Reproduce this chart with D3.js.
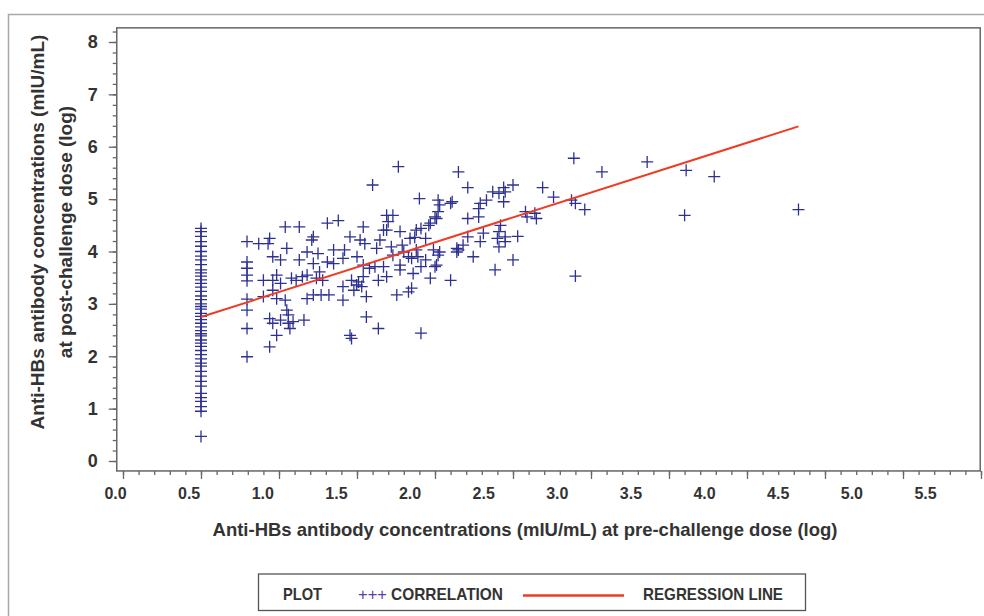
<!DOCTYPE html>
<html>
<head>
<meta charset="utf-8">
<script src="https://cdn.jsdelivr.net/npm/d3@7"></script>
<style>
  body { margin: 0; background: #fff; }
  svg { display: block; }
</style>
</head>
<body>
<div id="chart"></div>
<script>
/* values (log scale on both axes) */
const xTickLabels = ["0.0", "0.5", "1.0", "1.5", "2.0", "2.5", "3.0", "3.5", "4.0", "4.5", "5.0", "5.5"];
const yTickValues = [0, 1, 2, 3, 4, 5, 6, 7, 8];

// subjects sitting on the lower limit (pre-challenge = 0.5)
const floorX = 0.5;
const floorY = [4.44, 4.38, 4.29, 4.19, 4.10, 4.00, 3.91, 3.84, 3.75, 3.65, 3.59, 3.53, 3.46, 3.39,
  3.32, 3.24, 3.15, 3.08, 3.00, 2.95, 2.90, 2.82, 2.76, 2.70, 2.63, 2.56, 2.49, 2.43, 2.39, 2.31,
  2.25, 2.19, 2.11, 2.03, 1.95, 1.87, 1.81, 1.71, 1.62, 1.52, 1.43, 1.29, 1.21, 1.14, 1.04, 0.95, 0.47];

// second column of tied pre-challenge values
const tieX = 0.795;
const tieY = [4.19, 3.80, 3.68, 3.55, 3.44, 3.09, 2.88, 2.53, 1.99];

// remaining [pre, post] pairs
const scatter = [
  [1.04, 4.47], [1.13, 4.47], [1.31, 4.54], [1.38, 4.59], [1.54, 4.47],
  [1.22, 4.28], [1.21, 4.22], [1.455, 4.28], [1.52, 4.22], [1.55, 4.15],
  [0.87, 4.15], [0.93, 4.15], [0.94, 4.25],
  [1.05, 4.06], [1.18, 3.99], [1.25, 3.96], [1.35, 4.03], [1.42, 4.03],
  [0.96, 3.90], [1.01, 3.84], [1.13, 3.84], [1.22, 3.77], [1.31, 3.80], [1.35, 3.77], [1.41, 3.87], [1.50, 3.90],
  [1.26, 3.61], [1.18, 3.55], [1.24, 3.49],
  [0.90, 3.45], [0.96, 3.45], [0.985, 3.55], [1.08, 3.49], [1.11, 3.45], [1.15, 3.52], [1.28, 3.45],
  [1.465, 3.45], [1.51, 3.42], [1.54, 3.52],
  [0.96, 3.26], [1.01, 3.39],
  [0.90, 3.14], [0.985, 3.10], [1.04, 3.07], [1.18, 3.10], [1.22, 3.17], [1.27, 3.17], [1.32, 3.17],
  [1.41, 3.33], [1.48, 3.26], [1.53, 3.33], [1.56, 3.14],
  [1.05, 2.88], [1.06, 2.79],
  [0.94, 2.72], [0.96, 2.63], [1.01, 2.69], [1.06, 2.63], [1.09, 2.66], [1.16, 2.69], [1.07, 2.53],
  [1.41, 3.07], [1.56, 2.75],
  [0.985, 2.40], [0.94, 2.18],
  [1.455, 2.40], [1.465, 2.34],
  [1.765, 5.62], [2.15, 5.52], [1.60, 5.27], [2.21, 5.22], [2.44, 5.22], [2.50, 5.27], [2.69, 5.22],
  [2.37, 5.14], [2.41, 5.11], [2.45, 5.14],
  [1.90, 5.01], [2.02, 4.98], [2.03, 4.89], [2.10, 4.92], [2.11, 4.95], [2.29, 4.92], [2.28, 4.82],
  [2.33, 4.98], [2.44, 4.95],
  [2.02, 4.76], [2.00, 4.66], [2.01, 4.63], [1.97, 4.54], [1.69, 4.69], [1.73, 4.69], [1.70, 4.57],
  [2.21, 4.63], [2.28, 4.66], [2.58, 4.76], [2.64, 4.73], [2.65, 4.63], [2.59, 4.66],
  [1.67, 4.41], [1.69, 4.41], [1.776, 4.38], [1.88, 4.41], [1.91, 4.44], [1.96, 4.50], [2.42, 4.50], [2.41, 4.38],
  [1.647, 4.22], [1.84, 4.25], [1.87, 4.27], [1.94, 4.25], [2.21, 4.28], [2.31, 4.35], [2.40, 4.25],
  [2.45, 4.28], [2.53, 4.29],
  [1.626, 4.06], [1.72, 4.09], [1.79, 4.12], [1.80, 3.99], [1.88, 4.03], [1.99, 4.03], [2.03, 3.99],
  [2.14, 4.06], [2.18, 4.12], [2.29, 4.19], [2.41, 4.09], [2.45, 4.19],
  [1.73, 3.93], [1.83, 3.90], [1.85, 3.87], [1.89, 3.90], [1.94, 3.84], [2.02, 3.93], [2.14, 3.99], [2.15, 4.03],
  [1.54, 3.74], [1.58, 3.68], [1.615, 3.71], [1.67, 3.71], [1.776, 3.74], [1.91, 3.71], [2.00, 3.71],
  [2.01, 3.74], [2.245, 3.90], [2.50, 3.84],
  [1.637, 3.45], [1.69, 3.52], [1.776, 3.65], [1.86, 3.58], [1.97, 3.49], [2.10, 3.45], [2.385, 3.65],
  [1.498, 3.36], [1.755, 3.17], [1.83, 3.23], [1.85, 3.30],
  [1.637, 2.53], [1.91, 2.44],
  [2.89, 5.78], [3.07, 5.52], [3.36, 5.71], [3.61, 5.55], [3.79, 5.43], [4.33, 4.80], [3.60, 4.69],
  [2.90, 3.53], [2.76, 5.04], [2.875, 4.98], [2.90, 4.92], [2.96, 4.80]
];

// fitted regression line
const regIntercept = 2.275;
const regSlope = 0.95;
const regFrom = 0.5;
const regTo = 4.33;

const legendLabels = ["PLOT", "+++", "CORRELATION", "REGRESSION LINE"];

const width = 984;
const height = 616;
const textColor = "#333333";
const markColor = "#2e3192";
const lineColor = "#ee3b24";
const axisColor = "#666666";

const allPoints = [
  ...floorY.map(y => [floorX, y]),
  ...tieY.map(y => [tieX, y]),
  ...scatter
];

const svg = d3.select("#chart")
  .append("svg")
  .attr("width", width)
  .attr("height", height)
  .style("font-family", "'Liberation Sans', Arial, sans-serif");

// outer figure border
svg.append("rect")
  .attr("x", 8.5)
  .attr("y", 14.5)
  .attr("width", 1000)
  .attr("height", 640)
  .attr("fill", "none")
  .attr("stroke", "#a8a8a8")
  .attr("stroke-width", 1.5);

const x = d3.scaleLinear()
  .domain([0, 5.5])
  .range([123, 981]);

const y = d3.scaleLinear()
  .domain([0, 8])
  .range([461, 42]);

// tick labels in the original sit a little tighter than the ticks
const xLabel = d3.scalePoint()
  .domain(xTickLabels)
  .range([115, 925]);

const frameLeft = x(-0.04);
const frameRight = x(5.495);
const frameTop = y(8.27);
const frameBottom = y(-0.19);

// minor and major ticks, x
svg.append("g")
  .attr("transform", `translate(0,${frameBottom})`)
  .call(d3.axisBottom(x).tickValues(d3.range(0, 56).map(i => i / 10)).tickSize(4).tickFormat(""))
  .call(g => g.select(".domain").remove())
  .selectAll("line").attr("stroke", axisColor).attr("stroke-width", 1.3);

svg.append("g")
  .attr("transform", `translate(0,${frameBottom})`)
  .call(d3.axisBottom(x).tickValues(d3.range(0, 12).map(i => i / 2)).tickSize(8).tickFormat(""))
  .call(g => g.select(".domain").remove())
  .selectAll("line").attr("stroke", axisColor).attr("stroke-width", 1.3);

svg.append("g")
  .attr("transform", `translate(0,${frameBottom})`)
  .call(d3.axisBottom(xLabel).tickSize(0).tickPadding(17))
  .call(g => g.select(".domain").remove())
  .selectAll("text")
    .attr("font-family", "'Liberation Sans', Arial, sans-serif")
    .attr("font-size", 16)
    .attr("font-weight", "bold")
    .attr("fill", textColor);

// minor and major ticks, y
svg.append("g")
  .attr("transform", `translate(${frameLeft},0)`)
  .call(d3.axisLeft(y).tickValues(d3.range(0, 42).map(i => i / 5)).tickSize(4).tickFormat(""))
  .call(g => g.select(".domain").remove())
  .selectAll("line").attr("stroke", axisColor).attr("stroke-width", 1.3);

svg.append("g")
  .attr("transform", `translate(${frameLeft},0)`)
  .call(d3.axisLeft(y).tickValues(yTickValues).tickSize(8).tickPadding(11).tickFormat(d3.format("d")))
  .call(g => g.select(".domain").remove())
  .call(g => g.selectAll("line").attr("stroke", axisColor).attr("stroke-width", 1.3))
  .selectAll("text")
    .attr("font-family", "'Liberation Sans', Arial, sans-serif")
    .attr("font-size", 18)
    .attr("font-weight", "bold")
    .attr("fill", textColor);

// plot frame
svg.append("rect")
  .attr("x", frameLeft)
  .attr("y", frameTop)
  .attr("width", frameRight - frameLeft)
  .attr("height", frameBottom - frameTop)
  .attr("fill", "none")
  .attr("stroke", axisColor)
  .attr("stroke-width", 1.5);

// plus markers
const plus = "M-6,0H6M0,-6V6";
svg.append("g")
  .selectAll("path")
  .data(allPoints)
  .join("path")
    .attr("transform", d => `translate(${x(d[0])},${y(d[1])})`)
    .attr("d", plus)
    .attr("fill", "none")
    .attr("stroke", markColor)
    .attr("stroke-width", 1.3);

// regression line
const regLine = d3.line()
  .x(d => x(d))
  .y(d => y(regIntercept + regSlope * d));

svg.append("path")
  .datum([regFrom, regTo])
  .attr("d", regLine)
  .attr("fill", "none")
  .attr("stroke", lineColor)
  .attr("stroke-width", 2);

// axis titles
svg.append("text")
  .attr("x", 525)
  .attr("y", 536)
  .attr("text-anchor", "middle")
  .attr("font-size", 18.5)
  .attr("font-weight", "bold")
  .attr("fill", textColor)
  .text("Anti-HBs antibody concentrations (mIU/mL) at pre-challenge dose (log)");

const yTitle = svg.append("g")
  .attr("transform", "translate(0,232) rotate(-90)")
  .attr("text-anchor", "middle")
  .attr("font-size", 19)
  .attr("font-weight", "bold")
  .attr("fill", textColor);

yTitle.append("text")
  .attr("x", 0)
  .attr("y", 44)
  .text("Anti-HBs antibody concentrations (mIU/mL)");

yTitle.append("text")
  .attr("x", 0)
  .attr("y", 72)
  .text("at post-challenge dose (log)");

// legend
const legend = svg.append("g")
  .attr("font-family", "'Liberation Sans Narrow', 'Arial Narrow', 'Liberation Sans', sans-serif")
  .attr("font-weight", "bold")
  .attr("font-size", 17);

legend.append("rect")
  .attr("x", 258.5)
  .attr("y", 574)
  .attr("width", 547)
  .attr("height", 36.5)
  .attr("fill", "#fff")
  .attr("stroke", "#555")
  .attr("stroke-width", 1.3);

legend.append("text")
  .attr("x", 283)
  .attr("y", 600)
  .attr("fill", textColor)
  .attr("textLength", 39)
  .attr("lengthAdjust", "spacingAndGlyphs")
  .text(legendLabels[0]);

legend.append("text")
  .attr("x", 358)
  .attr("y", 600)
  .attr("fill", "#5a3fa8")
  .attr("font-weight", "normal")
  .attr("textLength", 29)
  .attr("lengthAdjust", "spacingAndGlyphs")
  .text(legendLabels[1]);

legend.append("text")
  .attr("x", 391)
  .attr("y", 600)
  .attr("fill", textColor)
  .attr("textLength", 112)
  .attr("lengthAdjust", "spacingAndGlyphs")
  .text(legendLabels[2]);

legend.append("line")
  .attr("x1", 523)
  .attr("x2", 624)
  .attr("y1", 595.5)
  .attr("y2", 595.5)
  .attr("stroke", lineColor)
  .attr("stroke-width", 2.5);

legend.append("text")
  .attr("x", 643)
  .attr("y", 600)
  .attr("fill", textColor)
  .attr("textLength", 140)
  .attr("lengthAdjust", "spacingAndGlyphs")
  .text(legendLabels[3]);
</script>
</body>
</html>
